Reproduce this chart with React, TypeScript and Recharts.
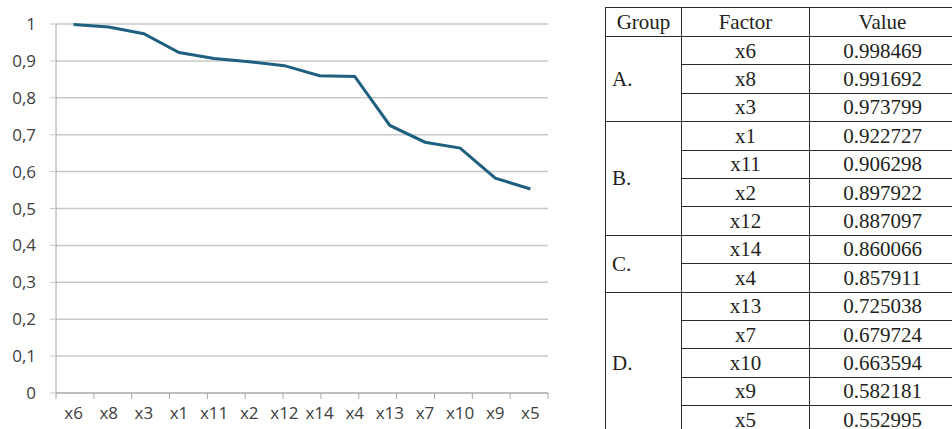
import { LineChart, Line, XAxis, YAxis, CartesianGrid } from 'recharts'

const factors = ['x6', 'x8', 'x3', 'x1', 'x11', 'x2', 'x12', 'x14', 'x4', 'x13', 'x7', 'x10', 'x9', 'x5']
const values = [
  0.998469, 0.991692, 0.973799, 0.922727, 0.906298, 0.897922, 0.887097, 0.860066, 0.857911, 0.725038,
  0.679724, 0.663594, 0.582181, 0.552995,
]
const groupNames = ['A.', 'B.', 'C.', 'D.']
const groupSizes = [3, 4, 2, 5]
const yTicks = [0, 0.1, 0.2, 0.3, 0.4, 0.5, 0.6, 0.7, 0.8, 0.9, 1]
const edgeTicks = factors.map((_, i) => i).concat(factors.length)

const data = factors.map((name, i) => ({ name, value: values[i] }))

// first row index of every group, for the rowSpan cells
const groupStart: number[] = []
groupSizes.reduce((acc, n) => {
  groupStart.push(acc)
  return acc + n
}, 0)

const cell = {
  border: '1px solid #2b2b2b',
  padding: 0,
  textAlign: 'center' as const,
}

const tickStyle = { fontFamily: '"Open Sans", sans-serif', fontSize: 17, fill: '#404040' }
const axisGray = { stroke: '#a6a6a6' }
const gridGray = { stroke: '#c8c8c8' }
const blank = () => ''
const commaDecimal = (v: number) => String(v).replace('.', ',')

function FactorTable() {
  return (
    <table
      style={{
        position: 'absolute',
        left: 605,
        top: 7,
        width: 350,
        borderCollapse: 'collapse',
        fontFamily: '"Liberation Serif", serif',
        fontSize: 21,
        lineHeight: '24px',
        color: '#231f20',
        tableLayout: 'fixed',
      }}
    >
      <colgroup>
        <col style={{ width: 76 }} />
        <col style={{ width: 128 }} />
        <col style={{ width: 146 }} />
      </colgroup>
      <tbody>
        <tr style={{ height: 29 }}>
          <td style={cell}>Group</td>
          <td style={cell}>Factor</td>
          <td style={cell}>Value</td>
        </tr>
        {factors.map((f, i) => {
          const g = groupStart.indexOf(i)
          return (
            <tr key={f} style={{ height: 28.4 }}>
              {g >= 0 && (
                <td rowSpan={groupSizes[g]} style={{ ...cell, textAlign: 'left', paddingLeft: 6 }}>
                  {groupNames[g]}
                </td>
              )}
              <td style={cell}>{f}</td>
              <td style={cell}>{values[i].toFixed(6)}</td>
            </tr>
          )
        })}
      </tbody>
    </table>
  )
}

export default function App() {
  return (
    <div style={{ position: 'absolute', left: 0, top: 0, width: 952, height: 429, background: '#fff', overflow: 'hidden' }}>
      <div style={{ position: 'absolute', left: 0, top: 0 }}>
        <LineChart width={560} height={429} data={data} margin={{ top: 24, right: 12, bottom: 0, left: 0 }}>
          <CartesianGrid vertical={false} stroke="#c8c8c8" strokeWidth={1.5} xAxisId="cat" />
          {/* tick marks between categories, like the spreadsheet axis */}
          <XAxis
            xAxisId={0}
            type="number"
            domain={[0, factors.length]}
            ticks={edgeTicks}
            tickFormatter={blank}
            height={1}
            tickSize={6}
            stroke="#a6a6a6"
            tickLine={axisGray}
            axisLine={axisGray}
          />
          <XAxis
            xAxisId="cat"
            dataKey="name"
            scale="band"
            height={35}
            interval={0}
            tickLine={false}
            axisLine={false}
            tickSize={0}
            tickMargin={13}
            tick={tickStyle}
          />
          <YAxis
            domain={[0, 1]}
            ticks={yTicks}
            width={56}
            tickSize={6}
            tickMargin={14}
            interval={0}
            tickFormatter={commaDecimal}
            tick={tickStyle}
            axisLine={axisGray}
            tickLine={gridGray}
          />
          <Line
            xAxisId="cat"
            type="linear"
            dataKey="value"
            stroke="#1f6080"
            strokeWidth={3}
            dot={false}
            isAnimationActive={false}
          />
        </LineChart>
      </div>
      <FactorTable />
    </div>
  )
}
